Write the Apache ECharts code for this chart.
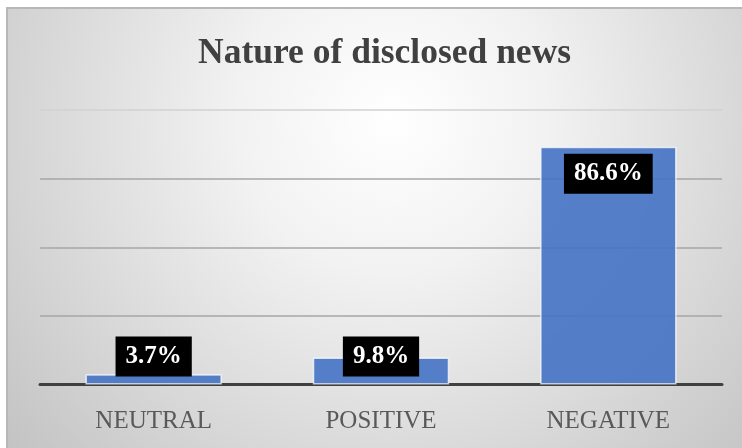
<!DOCTYPE html>
<html>
<head>
<meta charset="utf-8">
<script src="https://cdn.jsdelivr.net/npm/echarts@6/dist/echarts.min.js"></script>
<style>
html,body{margin:0;padding:0;background:#ffffff;}
#chart{width:742px;height:448px;}
</style>
</head>
<body>
<div id="chart"></div>
<script>
var titleText = 'Nature of disclosed news';
var categories = ['NEUTRAL', 'POSITIVE', 'NEGATIVE'];
var values = [3.7, 9.8, 86.6];
var labelPositions = ['insideBottom', 'insideBottom', 'insideTop'];

var chart = echarts.init(document.getElementById('chart'), null, {renderer: 'canvas'});

var seriesData = values.map(function (v, i) {
  return {
    value: v,
    label: {
      position: labelPositions[i],
      distance: labelPositions[i] === 'insideTop' ? 7 : 8
    }
  };
});

var option = {
  animation: false,
  graphic: [{
    type: 'rect',
    z: -10,
    silent: true,
    shape: {x: 7, y: 8, width: 740, height: 445},
    style: {
      fill: new echarts.graphic.RadialGradient(0.52, 0.25, 1.15, [
        {offset: 0, color: '#ffffff'},
        {offset: 0.3, color: '#f2f2f2'},
        {offset: 1, color: '#c2c2c2'}
      ]),
      stroke: '#b8b8b8',
      lineWidth: 2
    }
  }],
  title: {
    text: titleText,
    left: 193,
    top: 31,
    textStyle: {
      fontFamily: 'Liberation Serif',
      fontWeight: 'bold',
      fontSize: 35.5,
      color: '#404040'
    }
  },
  grid: {left: 40, right: 20, top: 110, bottom: 63.5, containLabel: false},
  xAxis: {
    type: 'category',
    data: categories,
    axisTick: {show: false},
    axisLine: {show: true, lineStyle: {color: '#404040', width: 3}},
    axisLabel: {
      margin: 24,
      fontFamily: 'Liberation Serif',
      fontSize: 25,
      color: '#595959'
    }
  },
  yAxis: {
    type: 'value',
    min: 0,
    max: 100,
    interval: 25,
    axisLabel: {show: false},
    axisLine: {show: false},
    axisTick: {show: false},
    splitLine: {
      show: true,
      lineStyle: {
        color: ['#a6a6a6', '#a6a6a6', '#a6a6a6', '#a6a6a6', '#d2d2d2'],
        width: 1.5
      }
    }
  },
  series: [{
    type: 'bar',
    data: seriesData,
    barWidth: '60%',
    itemStyle: {
      color: 'rgba(68,114,196,0.9)',
      borderColor: 'rgba(255,255,255,0.7)',
      borderWidth: 1.5
    },
    label: {
      show: true,
      formatter: function (p) { return p.value.toFixed(1) + '%'; },
      fontFamily: 'Liberation Serif',
      fontWeight: 'bold',
      fontSize: 25,
      lineHeight: 26,
      color: '#ffffff',
      backgroundColor: '#000000',
      padding: [7, 10, 7, 10]
    }
  }]
};

chart.setOption(option);
</script>
</body>
</html>
